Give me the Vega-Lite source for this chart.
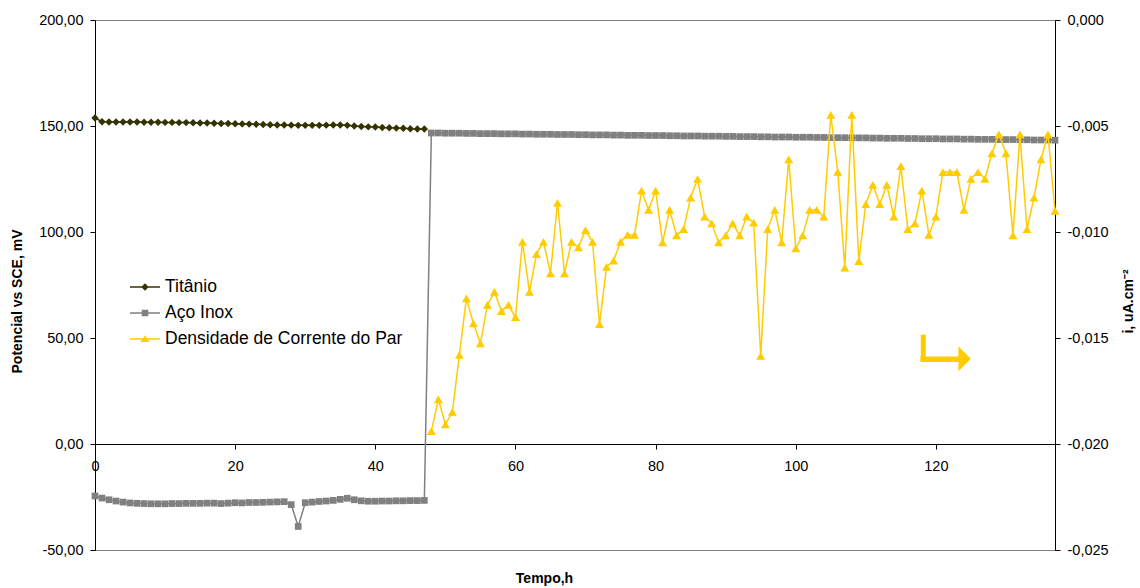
{
  "$schema": "https://vega.github.io/schema/vega-lite/v6.json",
  "width": 960,
  "height": 530,
  "autosize": {"type": "none"},
  "padding": {"left": 95, "top": 20, "right": 85, "bottom": 38},
  "background": "white",
  "config": {
    "view": {"stroke": "#808080", "strokeWidth": 1},
    "font": "Liberation Sans",
    "axis": {
      "grid": false, "domainColor": "#000000", "tickColor": "#000000",
      "labelColor": "#000000", "titleColor": "#000000",
      "labelFont": "Liberation Sans", "titleFont": "Liberation Sans",
      "labelFontSize": 14.5, "titleFontSize": 14, "titleFontWeight": "bold",
      "tickSize": 5, "domainWidth": 1, "tickWidth": 1,
      "labelFlush": false, "labelOverlap": false
    }
  },
  "datasets": {
    "ti": [
      {"t":0,"v":153.8},{"t":1,"v":152.0},{"t":2,"v":151.9},{"t":3,"v":151.9},{"t":4,"v":151.9},{"t":5,"v":151.9},
      {"t":6,"v":151.9},{"t":7,"v":151.8},{"t":8,"v":151.8},{"t":9,"v":151.8},{"t":10,"v":151.7},{"t":11,"v":151.7},
      {"t":12,"v":151.6},{"t":13,"v":151.6},{"t":14,"v":151.5},{"t":15,"v":151.4},{"t":16,"v":151.4},{"t":17,"v":151.3},
      {"t":18,"v":151.2},{"t":19,"v":151.2},{"t":20,"v":151.1},{"t":21,"v":151.0},{"t":22,"v":150.9},{"t":23,"v":150.8},
      {"t":24,"v":150.7},{"t":25,"v":150.6},{"t":26,"v":150.5},{"t":27,"v":150.5},{"t":28,"v":150.4},{"t":29,"v":150.3},
      {"t":30,"v":150.3},{"t":31,"v":150.3},{"t":32,"v":150.3},{"t":33,"v":150.4},{"t":34,"v":150.5},{"t":35,"v":150.5},
      {"t":36,"v":150.3},{"t":37,"v":150.0},{"t":38,"v":149.8},{"t":39,"v":149.6},{"t":40,"v":149.5},{"t":41,"v":149.3},
      {"t":42,"v":149.2},{"t":43,"v":149.0},{"t":44,"v":148.9},{"t":45,"v":148.7},{"t":46,"v":148.6},{"t":47,"v":148.6}
    ],
    "aco": [
      {"t":0,"v":-24.5},{"t":1,"v":-25.5},{"t":2,"v":-26.3},{"t":3,"v":-26.9},{"t":4,"v":-27.4},{"t":5,"v":-27.8},
      {"t":6,"v":-28.0},{"t":7,"v":-28.1},{"t":8,"v":-28.2},{"t":9,"v":-28.2},{"t":10,"v":-28.2},{"t":11,"v":-28.1},
      {"t":12,"v":-28.1},{"t":13,"v":-28.0},{"t":14,"v":-28.0},{"t":15,"v":-28.0},{"t":16,"v":-27.9},{"t":17,"v":-27.9},
      {"t":18,"v":-28.1},{"t":19,"v":-27.9},{"t":20,"v":-27.7},{"t":21,"v":-27.8},{"t":22,"v":-27.6},{"t":23,"v":-27.6},
      {"t":24,"v":-27.5},{"t":25,"v":-27.4},{"t":26,"v":-27.3},{"t":27,"v":-27.2},{"t":28,"v":-28.6},{"t":29,"v":-38.9},
      {"t":30,"v":-27.7},{"t":31,"v":-27.4},{"t":32,"v":-27.1},{"t":33,"v":-26.9},{"t":34,"v":-26.6},{"t":35,"v":-26.1},
      {"t":36,"v":-25.6},{"t":37,"v":-26.3},{"t":38,"v":-26.8},{"t":39,"v":-27.0},{"t":40,"v":-27.0},{"t":41,"v":-26.9},
      {"t":42,"v":-26.9},{"t":43,"v":-26.8},{"t":44,"v":-26.8},{"t":45,"v":-26.7},{"t":46,"v":-26.7},{"t":47,"v":-26.6},
      {"t":48,"v":146.7},{"t":49,"v":146.7},{"t":50,"v":146.6},{"t":51,"v":146.6},{"t":52,"v":146.6},{"t":53,"v":146.5},
      {"t":54,"v":146.5},{"t":55,"v":146.4},{"t":56,"v":146.4},{"t":57,"v":146.4},{"t":58,"v":146.3},{"t":59,"v":146.3},
      {"t":60,"v":146.3},{"t":61,"v":146.2},{"t":62,"v":146.2},{"t":63,"v":146.1},{"t":64,"v":146.1},{"t":65,"v":146.1},
      {"t":66,"v":146.0},{"t":67,"v":146.0},{"t":68,"v":146.0},{"t":69,"v":145.9},{"t":70,"v":145.9},{"t":71,"v":145.8},
      {"t":72,"v":145.8},{"t":73,"v":145.8},{"t":74,"v":145.7},{"t":75,"v":145.7},{"t":76,"v":145.6},{"t":77,"v":145.6},
      {"t":78,"v":145.6},{"t":79,"v":145.5},{"t":80,"v":145.5},{"t":81,"v":145.5},{"t":82,"v":145.4},{"t":83,"v":145.4},
      {"t":84,"v":145.3},{"t":85,"v":145.3},{"t":86,"v":145.3},{"t":87,"v":145.2},{"t":88,"v":145.2},{"t":89,"v":145.2},
      {"t":90,"v":145.1},{"t":91,"v":145.1},{"t":92,"v":145.0},{"t":93,"v":145.0},{"t":94,"v":145.0},{"t":95,"v":144.9},
      {"t":96,"v":144.9},{"t":97,"v":144.8},{"t":98,"v":144.8},{"t":99,"v":144.8},{"t":100,"v":144.7},{"t":101,"v":144.7},
      {"t":102,"v":144.7},{"t":103,"v":144.6},{"t":104,"v":144.6},{"t":105,"v":144.5},{"t":106,"v":144.5},{"t":107,"v":144.5},
      {"t":108,"v":144.4},{"t":109,"v":144.4},{"t":110,"v":144.4},{"t":111,"v":144.3},{"t":112,"v":144.3},{"t":113,"v":144.2},
      {"t":114,"v":144.2},{"t":115,"v":144.2},{"t":116,"v":144.1},{"t":117,"v":144.1},{"t":118,"v":144.0},{"t":119,"v":144.0},
      {"t":120,"v":144.0},{"t":121,"v":143.9},{"t":122,"v":143.9},{"t":123,"v":143.9},{"t":124,"v":143.8},{"t":125,"v":143.8},
      {"t":126,"v":143.7},{"t":127,"v":143.7},{"t":128,"v":143.7},{"t":129,"v":143.6},{"t":130,"v":143.6},{"t":131,"v":143.6},
      {"t":132,"v":143.5},{"t":133,"v":143.5},{"t":134,"v":143.4},{"t":135,"v":143.4},{"t":136,"v":143.4},{"t":137,"v":143.3}
    ],
    "dens": [
      {"t":48,"v":-0.01939},{"t":49,"v":-0.01789},{"t":50,"v":-0.01907},{"t":51,"v":-0.01848},{"t":52,"v":-0.01580},
      {"t":53,"v":-0.01313},{"t":54,"v":-0.01431},{"t":55,"v":-0.01525},{"t":56,"v":-0.01344},{"t":57,"v":-0.01282},
      {"t":58,"v":-0.01373},{"t":59,"v":-0.01344},{"t":60,"v":-0.01402},{"t":61,"v":-0.01046},{"t":62,"v":-0.01282},
      {"t":63,"v":-0.01104},{"t":64,"v":-0.01046},{"t":65,"v":-0.01195},{"t":66,"v":-0.00863},{"t":67,"v":-0.01195},
      {"t":68,"v":-0.01046},{"t":69,"v":-0.01072},{"t":70,"v":-0.00991},{"t":71,"v":-0.01046},{"t":72,"v":-0.01435},
      {"t":73,"v":-0.01164},{"t":74,"v":-0.01135},{"t":75,"v":-0.01046},{"t":76,"v":-0.01014},{"t":77,"v":-0.01014},
      {"t":78,"v":-0.00805},{"t":79,"v":-0.00896},{"t":80,"v":-0.00805},{"t":81,"v":-0.01049},{"t":82,"v":-0.00896},
      {"t":83,"v":-0.01016},{"t":84,"v":-0.00986},{"t":85,"v":-0.00838},{"t":86,"v":-0.00750},{"t":87,"v":-0.00928},
      {"t":88,"v":-0.00959},{"t":89,"v":-0.01049},{"t":90,"v":-0.01016},{"t":91,"v":-0.00959},{"t":92,"v":-0.01016},
      {"t":93,"v":-0.00928},{"t":94,"v":-0.00956},{"t":95,"v":-0.01584},{"t":96,"v":-0.00986},{"t":97,"v":-0.00896},
      {"t":98,"v":-0.01049},{"t":99,"v":-0.00657},{"t":100,"v":-0.01077},{"t":101,"v":-0.01016},{"t":102,"v":-0.00896},
      {"t":103,"v":-0.00896},{"t":104,"v":-0.00928},{"t":105,"v":-0.00448},{"t":106,"v":-0.00716},{"t":107,"v":-0.01168},
      {"t":108,"v":-0.00448},{"t":109,"v":-0.01137},{"t":110,"v":-0.00868},{"t":111,"v":-0.00778},{"t":112,"v":-0.00868},
      {"t":113,"v":-0.00778},{"t":114,"v":-0.00928},{"t":115,"v":-0.00689},{"t":116,"v":-0.00987},{"t":117,"v":-0.00959},
      {"t":118,"v":-0.00805},{"t":119,"v":-0.01014},{"t":120,"v":-0.00928},{"t":121,"v":-0.00717},{"t":122,"v":-0.00717},
      {"t":123,"v":-0.00717},{"t":124,"v":-0.00896},{"t":125,"v":-0.00749},{"t":126,"v":-0.00717},{"t":127,"v":-0.00749},
      {"t":128,"v":-0.00629},{"t":129,"v":-0.00539},{"t":130,"v":-0.00629},{"t":131,"v":-0.01016},{"t":132,"v":-0.00539},
      {"t":133,"v":-0.00987},{"t":134,"v":-0.00838},{"t":135,"v":-0.00657},{"t":136,"v":-0.00539},{"t":137,"v":-0.00900}
    ]
  },
  "layer": [
    {
      "layer": [
        {
          "data": {"name": "aco"},
          "mark": {"type": "line", "color": "#808080", "strokeWidth": 1.5},
          "encoding": {
            "x": {
              "field": "t", "type": "quantitative",
              "scale": {"domain": [0, 137], "nice": false, "zero": false},
              "axis": {
                "title": "Tempo,h", "values": [0, 20, 40, 60, 80, 100, 120], "format": "d",
                "offset": -106, "labelPadding": 10,
                "titleX": 449, "titleY": 134, "titleBaseline": "middle", "titleAlign": "center"
              }
            },
            "y": {
              "field": "v", "type": "quantitative",
              "scale": {"domain": [-50, 200], "nice": false, "zero": false},
              "axis": {
                "orient": "left", "title": "Potencial vs SCE, mV",
                "values": [-50, 0, 50, 100, 150, 200],
                "labelExpr": "replace(replace(format(datum.value, '.2f'), '.', ','), '\u2212', '-')",
                "labelPadding": 7,
                "titleX": -78, "titleY": 281, "titleAngle": -90,
                "titleAlign": "center", "titleBaseline": "middle"
              }
            }
          }
        },
        {
          "data": {"name": "aco"},
          "mark": {"type": "point", "shape": "square", "filled": true, "size": 45, "color": "#808080", "opacity": 1},
          "encoding": {
            "x": {"field": "t", "type": "quantitative"},
            "y": {"field": "v", "type": "quantitative", "title": "Potencial vs SCE, mV"}
          }
        },
        {
          "data": {"name": "ti"},
          "mark": {"type": "line", "color": "#333300", "strokeWidth": 1.5},
          "encoding": {
            "x": {"field": "t", "type": "quantitative"},
            "y": {"field": "v", "type": "quantitative", "title": "Potencial vs SCE, mV"}
          }
        },
        {
          "data": {"name": "ti"},
          "mark": {"type": "point", "shape": "diamond", "filled": true, "size": 55, "color": "#333300", "opacity": 1},
          "encoding": {
            "x": {"field": "t", "type": "quantitative"},
            "y": {"field": "v", "type": "quantitative", "title": "Potencial vs SCE, mV"}
          }
        },
        {
          "data": {"values": [{"a": 1}]},
          "mark": {"type": "rule", "color": "#FFCC00", "strokeWidth": 5, "strokeCap": "butt"},
          "encoding": {
            "x": {"datum": 118.2, "type": "quantitative"},
            "y": {"datum": 51.6, "type": "quantitative", "title": "Potencial vs SCE, mV"},
            "y2": {"datum": 38.7}
          }
        },
        {
          "data": {"values": [{"a": 1}]},
          "mark": {"type": "rule", "color": "#FFCC00", "strokeWidth": 5.5, "strokeCap": "butt"},
          "encoding": {
            "x": {"datum": 117.8, "type": "quantitative"},
            "x2": {"datum": 123.6},
            "y": {"datum": 40.0, "type": "quantitative", "title": "Potencial vs SCE, mV"}
          }
        },
        {
          "data": {"values": [{"a": 1}]},
          "mark": {"type": "point", "shape": "M-0.5,-1L0.5,0L-0.5,1Z", "size": 625, "filled": true, "color": "#FFCC00", "opacity": 1},
          "encoding": {
            "x": {"datum": 124.1, "type": "quantitative"},
            "y": {"datum": 40.2, "type": "quantitative", "title": "Potencial vs SCE, mV"}
          }
        },
        {
          "data": {"values": [{"s": "Titânio"}, {"s": "Aço Inox"}, {"s": "Densidade de Corrente do Par"}]},
          "mark": {"type": "point", "filled": true, "size": 0, "opacity": 1},
          "encoding": {
            "color": {
              "field": "s", "type": "nominal",
              "scale": {"domain": ["Titânio", "Aço Inox", "Densidade de Corrente do Par"], "range": ["#333300", "#808080", "#FFCC00"]},
              "legend": {
                "orient": "none", "legendX": 35, "legendY": 252, "title": null, "direction": "vertical",
                "labelFontSize": 17.5, "labelFont": "Liberation Sans", "labelColor": "#000000",
                "symbolSize": 900, "symbolStrokeWidth": 0, "symbolOpacity": 1,
                "labelOffset": 5, "rowPadding": 2, "padding": 0, "labelLimit": 400
              }
            },
            "shape": {
              "field": "s", "type": "nominal",
              "scale": {
                "domain": ["Titânio", "Aço Inox", "Densidade de Corrente do Par"],
                "range": [
                  "M-1,-0.05H-0.2L0,-0.25L0.2,-0.05H1V0.05H0.2L0,0.25L-0.2,0.05H-1Z",
                  "M-1,-0.05H-0.22V-0.22H0.22V-0.05H1V0.05H0.22V0.22H-0.22V0.05H-1Z",
                  "M-1,-0.05H-0.133L0,-0.25L0.133,-0.05H1V0.05H0.2L0.3,0.2H-0.3L-0.2,0.05H-1Z"
                ]
              },
              "legend": {
                "orient": "none", "legendX": 35, "legendY": 252, "title": null, "direction": "vertical",
                "labelFontSize": 17.5, "labelFont": "Liberation Sans", "labelColor": "#000000",
                "symbolSize": 900, "symbolStrokeWidth": 0, "symbolOpacity": 1,
                "labelOffset": 5, "rowPadding": 2, "padding": 0, "labelLimit": 400
              }
            }
          }
        }
      ]
    },
    {
      "layer": [
        {
          "data": {"name": "dens"},
          "mark": {"type": "line", "color": "#FFCC00", "strokeWidth": 1.5},
          "encoding": {
            "x": {"field": "t", "type": "quantitative"},
            "y": {
              "field": "v", "type": "quantitative",
              "scale": {"domain": [-0.025, 0], "nice": false, "zero": false},
              "axis": {
                "orient": "right", "title": "i, uA.cm⁻²",
                "values": [-0.025, -0.02, -0.015, -0.01, -0.005, 0],
                "labelExpr": "replace(replace(format(datum.value, '.3f'), '.', ','), '\u2212', '-')",
                "labelPadding": 7,
                "titleX": 73, "titleY": 281, "titleAngle": -90,
                "titleAlign": "center", "titleBaseline": "middle"
              }
            }
          }
        },
        {
          "data": {"name": "dens"},
          "mark": {"type": "point", "shape": "triangle-up", "filled": true, "size": 80, "color": "#FFCC00", "opacity": 1},
          "encoding": {
            "x": {"field": "t", "type": "quantitative"},
            "y": {"field": "v", "type": "quantitative", "title": "i, uA.cm⁻²"}
          }
        }
      ]
    }
  ],
  "resolve": {"scale": {"y": "independent"}}
}
